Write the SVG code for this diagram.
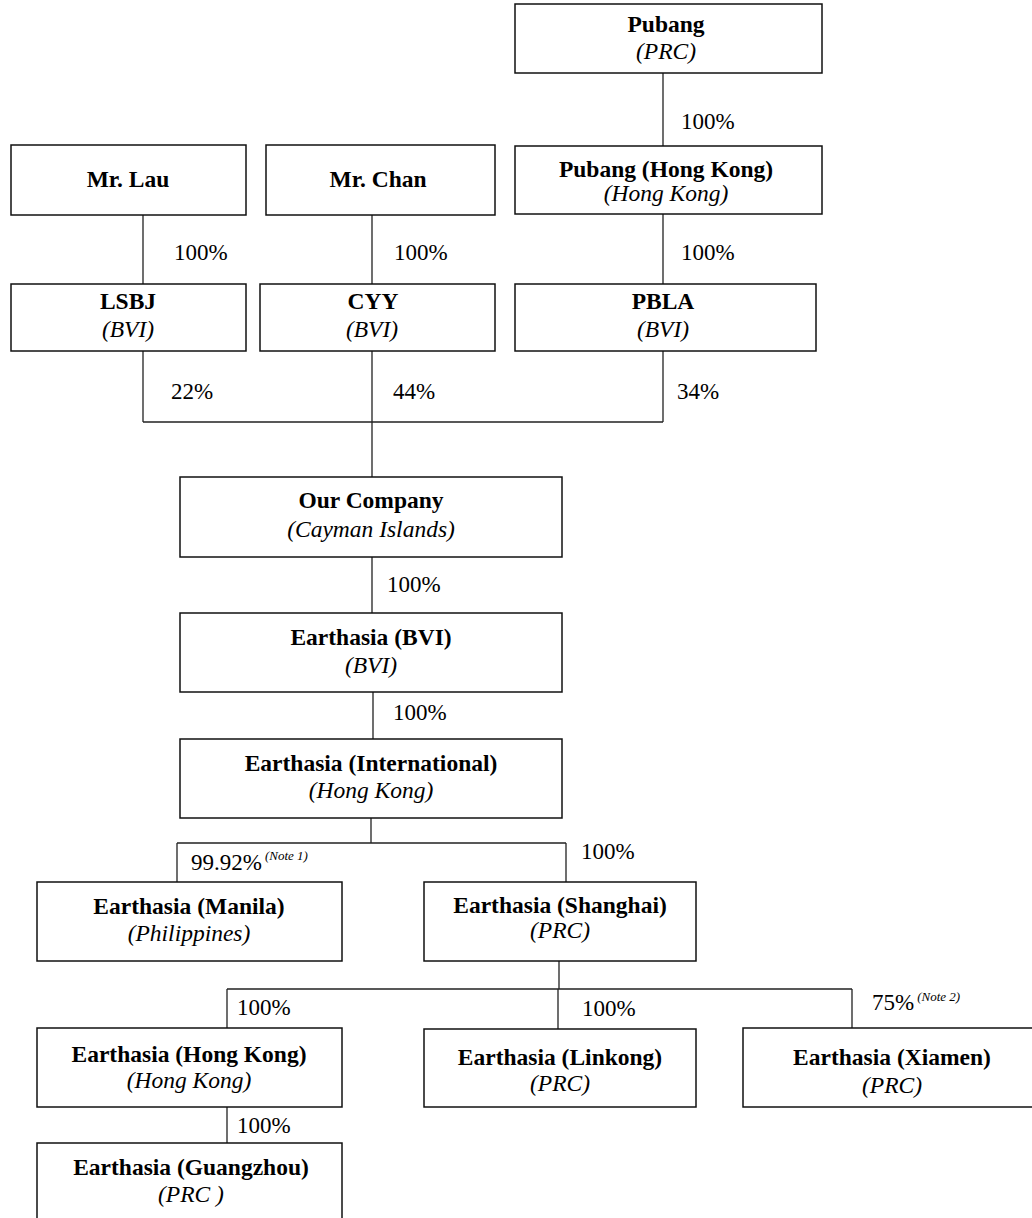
<svg xmlns="http://www.w3.org/2000/svg" width="1032" height="1218" viewBox="0 0 1032 1218">
<style>
.box{fill:#fff;stroke:#111;stroke-width:1.5}
.ln{stroke:#222;stroke-width:1.3;fill:none}
.t{font-family:"Liberation Serif","Times New Roman",serif;font-weight:bold;font-size:23.5px;text-anchor:middle;fill:#000}
.s{font-family:"Liberation Serif","Times New Roman",serif;font-style:italic;font-size:23.5px;text-anchor:middle;fill:#000}
.p{font-family:"Liberation Serif","Times New Roman",serif;font-size:23px;fill:#000}
.n{font-family:"Liberation Serif","Times New Roman",serif;font-style:italic;font-size:13px;fill:#000}
</style>
<rect width="1032" height="1218" fill="#fff"/>
<g id="connectors">
<path class="ln" d="M663 73V146M663 214V284M143 215V284M372 215V284M143 351V422M663 351V422M143 422H663M372 351V477M372 557V613M373 692V739M371 818V843M177 843H566M177 843V882M566 843V882M559 961V989M227 989H852M227 989V1028M558 989V1029M852 989V1028M227 1107V1143"/>
<text class="p" x="681" y="129">100%</text>
<text class="p" x="174" y="260">100%</text>
<text class="p" x="394" y="260">100%</text>
<text class="p" x="681" y="260">100%</text>
<text class="p" x="171" y="399">22%</text>
<text class="p" x="393" y="399">44%</text>
<text class="p" x="677" y="399">34%</text>
<text class="p" x="387" y="592">100%</text>
<text class="p" x="393" y="720">100%</text>
<text class="p" x="191" y="870">99.92%<tspan class="n" dx="3" dy="-10">(Note 1)</tspan></text>
<text class="p" x="581" y="859">100%</text>
<text class="p" x="237" y="1015">100%</text>
<text class="p" x="582" y="1016">100%</text>
<text class="p" x="872" y="1010">75%<tspan class="n" dx="3" dy="-9">(Note 2)</tspan></text>
<text class="p" x="237" y="1133">100%</text>
</g>
<g id="pubang"><rect class="box" x="515" y="4" width="307" height="69"/><text class="t" x="666" y="32">Pubang</text><text class="s" x="666" y="59">(PRC)</text></g>
<g id="pubang-hk"><rect class="box" x="515" y="146" width="307" height="68"/><text class="t" x="666" y="177">Pubang (Hong Kong)</text><text class="s" x="666" y="201">(Hong Kong)</text></g>
<g id="mr-lau"><rect class="box" x="11" y="145" width="235" height="70"/><text class="t" x="128" y="187">Mr. Lau</text></g>
<g id="mr-chan"><rect class="box" x="266" y="145" width="229" height="70"/><text class="t" x="378" y="187">Mr. Chan</text></g>
<g id="lsbj"><rect class="box" x="11" y="284" width="235" height="67"/><text class="t" x="128" y="309">LSBJ</text><text class="s" x="128" y="337">(BVI)</text></g>
<g id="cyy"><rect class="box" x="260" y="284" width="235" height="67"/><text class="t" x="373" y="309">CYY</text><text class="s" x="372" y="337">(BVI)</text></g>
<g id="pbla"><rect class="box" x="515" y="284" width="301" height="67"/><text class="t" x="663" y="309">PBLA</text><text class="s" x="663" y="337">(BVI)</text></g>
<g id="our-company"><rect class="box" x="180" y="477" width="382" height="80"/><text class="t" x="371" y="508">Our Company</text><text class="s" x="371" y="537">(Cayman Islands)</text></g>
<g id="earthasia-bvi"><rect class="box" x="180" y="613" width="382" height="79"/><text class="t" x="371" y="645">Earthasia (BVI)</text><text class="s" x="371" y="673">(BVI)</text></g>
<g id="earthasia-intl"><rect class="box" x="180" y="739" width="382" height="79"/><text class="t" x="371" y="771">Earthasia (International)</text><text class="s" x="371" y="798">(Hong Kong)</text></g>
<g id="earthasia-manila"><rect class="box" x="37" y="882" width="305" height="79"/><text class="t" x="189" y="914">Earthasia (Manila)</text><text class="s" x="189" y="941">(Philippines)</text></g>
<g id="earthasia-shanghai"><rect class="box" x="424" y="882" width="272" height="79"/><text class="t" x="560" y="913">Earthasia (Shanghai)</text><text class="s" x="560" y="938">(PRC)</text></g>
<g id="earthasia-hk"><rect class="box" x="37" y="1028" width="305" height="79"/><text class="t" x="189" y="1062">Earthasia (Hong Kong)</text><text class="s" x="189" y="1088">(Hong Kong)</text></g>
<g id="earthasia-linkong"><rect class="box" x="424" y="1029" width="272" height="78"/><text class="t" x="560" y="1065">Earthasia (Linkong)</text><text class="s" x="560" y="1091">(PRC)</text></g>
<g id="earthasia-xiamen"><rect class="box" x="743" y="1028" width="297" height="79"/><text class="t" x="892" y="1065">Earthasia (Xiamen)</text><text class="s" x="892" y="1093">(PRC)</text></g>
<g id="earthasia-guangzhou"><rect class="box" x="37" y="1143" width="305" height="90"/><text class="t" x="191" y="1175">Earthasia (Guangzhou)</text><text class="s" x="191" y="1202">(PRC )</text></g>
</svg>
